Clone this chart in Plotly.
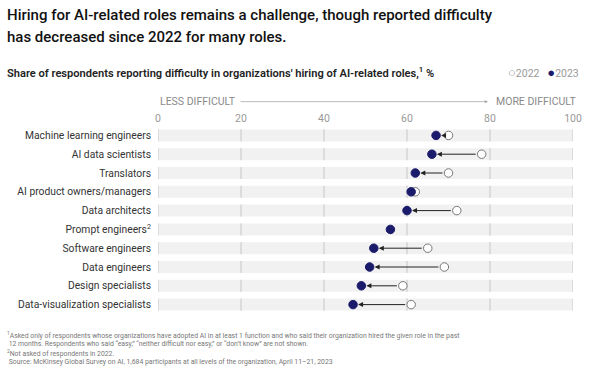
import plotly.graph_objects as go

roles = [
    "Machine learning engineers",
    "AI data scientists",
    "Translators",
    "AI product owners/managers",
    "Data architects",
    "Prompt engineers<sup>2</sup>",
    "Software engineers",
    "Data engineers",
    "Design specialists",
    "Data-visualization specialists",
]
v2022 = [70, 78, 70, 62, 72, None, 65, 69, 59, 61]
v2023 = [67, 66, 62, 61, 60, 56, 52, 51, 49, 47]
tick_vals = [0, 20, 40, 60, 80, 100]

NAVY = "#1b1b6b"
FONT = "Roboto"
W, H = 596, 374
L, R, T, B = 158, 23, 125.5, 59.5

fig = go.Figure()

fig.add_trace(go.Scatter(
    x=v2022, y=roles, mode="markers", name="2022", showlegend=False,
    marker=dict(size=8.5, color="white", line=dict(color="#777", width=1)),
))
fig.add_trace(go.Scatter(
    x=v2023, y=roles, mode="markers", name="2023", showlegend=False,
    marker=dict(size=8.5, color=NAVY, line=dict(color=NAVY, width=1)),
))

# bands and per-row gridlines
for i, r in enumerate(roles):
    fig.add_shape(type="rect", xref="x", yref="y", x0=tick_vals[0], x1=tick_vals[-1],
                  y0=i - 0.32, y1=i + 0.32, fillcolor="#f1f1f1", line_width=0, layer="below")
    for t in tick_vals:
        fig.add_shape(type="line", xref="x", yref="y", x0=t, x1=t,
                      y0=i - 0.32, y1=i + 0.32, line=dict(color="#c6c6c6", width=1), layer="below")

# arrows from 2022 to 2023
for i, (a, b) in enumerate(zip(v2022, v2023)):
    if a is None or abs(a - b) <= 1:
        continue
    fig.add_annotation(x=b, y=i, ax=a, ay=i, xref="x", yref="y", axref="x", ayref="y",
                       text="", showarrow=True, arrowhead=2, arrowsize=1, arrowwidth=1,
                       arrowcolor="#222", standoff=5, startstandoff=4.5)

def px_x(p):
    return (p - L) / (W - L - R)

def px_y(p):
    return (H - B - p) / (H - T - B)

# title (two lines)
for line, yy in [("Hiring for AI-related roles remains a challenge, though reported difficulty", 14),
                 ("has decreased since 2022 for many roles.", 36)]:
    fig.add_annotation(xref="paper", yref="paper", x=px_x(5), y=px_y(yy), text=line,
                       showarrow=False, xanchor="left", yanchor="middle", align="left",
                       font=dict(family=FONT, size=15, color="#111", weight=500))

# direction labels
fig.add_annotation(xref="paper", yref="paper", x=0, y=px_y(101), text="LESS DIFFICULT",
                   showarrow=False, xanchor="left", yanchor="middle",
                   font=dict(family=FONT, size=10.5, color="#8a8a8a"))
fig.add_annotation(xref="paper", yref="paper", x=px_x(488), y=px_y(101),
                   ax=-(488 - 239), ay=0,
                   text="", showarrow=True, arrowhead=2, arrowsize=0.8, arrowwidth=0.8,
                   arrowcolor="#aaa")
fig.add_annotation(xref="paper", yref="paper", x=px_x(494), y=px_y(101), text="MORE DIFFICULT",
                   showarrow=False, xanchor="left", yanchor="middle",
                   font=dict(family=FONT, size=10.5, color="#8a8a8a"))

# subtitle
fig.add_annotation(xref="paper", yref="paper", x=px_x(5), y=px_y(72),
                   text="Share of respondents reporting difficulty in organizations' hiring of AI-related roles,<sup>1</sup> %",
                   showarrow=False, xanchor="left", yanchor="middle",
                   font=dict(family=FONT, size=11.1, color="#222", weight=600))

# legend
fig.add_annotation(xref="paper", yref="paper", x=px_x(581), y=px_y(72),
                   text="<span style='font-size:13px'>\u25cb</span>2022   "
                        "<span style='color:%s;font-size:13px'>\u25cf</span>2023" % NAVY,
                   showarrow=False, xanchor="right", yanchor="middle",
                   font=dict(family=FONT, size=10.5, color="#999"))

# footnotes
notes = [
    "<sup>1</sup>Asked only of respondents whose organizations have adopted AI in at least 1 function and who said their organization hired the given role in the past",
    " 12 months. Respondents who said \u201ceasy,\u201d \u201cneither difficult nor easy,\u201d or \u201cdon\u2019t know\u201d are not shown.",
    "<sup>2</sup>Not asked of respondents in 2022.",
    " Source: McKinsey Global Survey on AI, 1,684 participants at all levels of the organization, April 11\u201321, 2023",
]
for n, yy in zip(notes, [336, 345, 354, 363]):
    fig.add_annotation(xref="paper", yref="paper", x=px_x(5), y=px_y(yy), text=n,
                       showarrow=False, xanchor="left", yanchor="middle",
                       font=dict(family=FONT, size=6.85, color="#777"))

fig.update_layout(
    width=W, height=H,
    margin=dict(l=L, r=R, t=T, b=B, autoexpand=False),
    paper_bgcolor="white", plot_bgcolor="white",
    showlegend=False,
    xaxis=dict(range=[0, 100], side="top", tickvals=tick_vals, showgrid=False, zeroline=False,
               showline=False, ticks="", automargin=False, ticklabelstandoff=1,
               tickfont=dict(family=FONT, size=10.5, color="#999")),
    yaxis=dict(range=[len(roles) - 0.5, -0.5], showgrid=False, zeroline=False, showline=False,
               ticks="", automargin=False, ticklabelstandoff=6,
               tickfont=dict(family=FONT, size=10.3, color="#333")),
    font=dict(family=FONT),
)

fig.write_html("out.html", config={"displayModeBar": False},
               post_script="document.body.style.margin='0';")
